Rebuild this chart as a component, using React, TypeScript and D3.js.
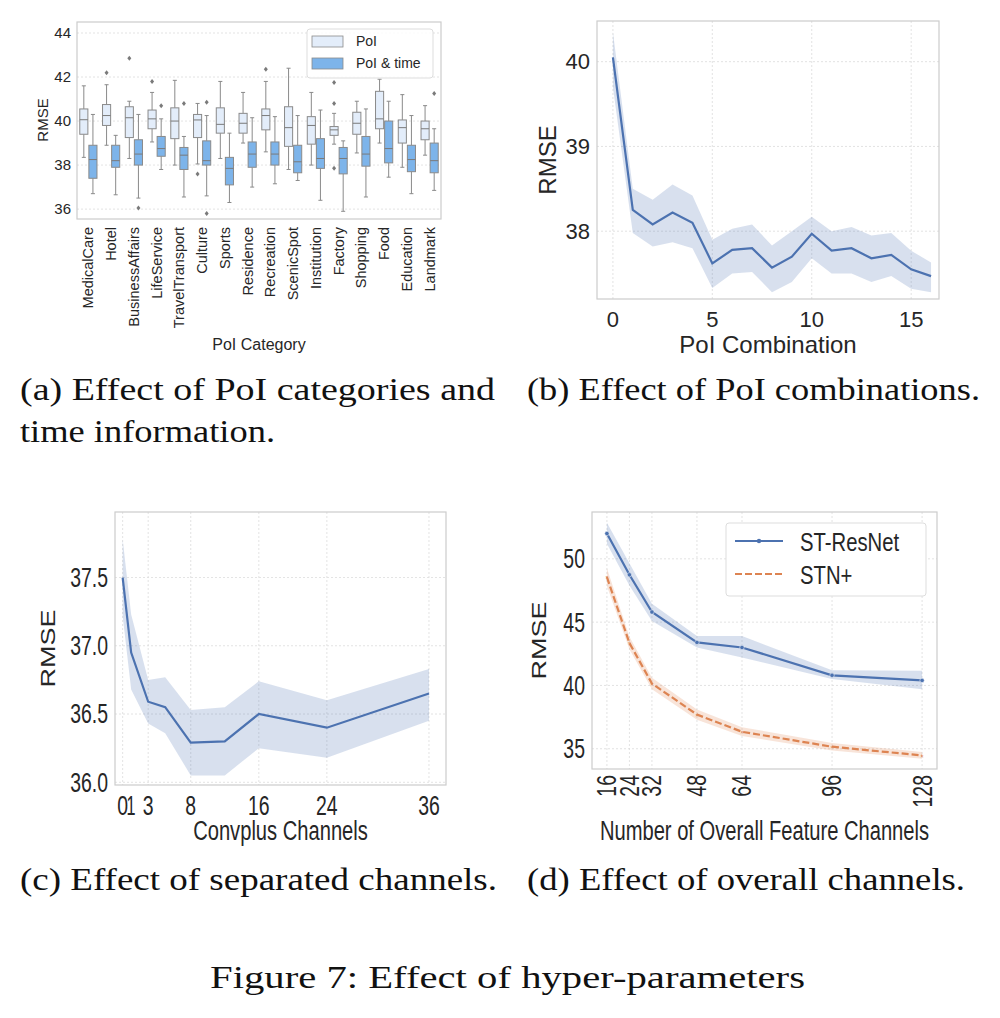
import React from "react";
import { scaleLinear, scaleBand, line, area } from "d3";

// (a) box stats: [whiskLo, q1, median, q3, whiskHi, outliers]
const categories = ["MedicalCare", "Hotel", "BusinessAffairs", "LifeService", "TravelTransport", "Culture", "Sports", "Residence", "Recreation", "ScenicSpot", "Institution", "Factory", "Shopping", "Food", "Education", "Landmark"];
const poiBoxes: [number, number, number, number, number, number[]][] = [
  [38.35, 39.4, 40.06, 40.55, 41.6, []],
  [38.9, 39.8, 40.25, 40.75, 41.65, [42.2]],
  [38.3, 39.25, 40.15, 40.65, 40.9, [42.85]],
  [39.05, 39.65, 40.1, 40.5, 41.3, [41.8]],
  [38.0, 39.2, 40.0, 40.6, 41.85, []],
  [38.05, 39.25, 40.05, 40.3, 40.8, [37.6]],
  [38.3, 39.45, 39.85, 40.6, 41.8, []],
  [39.0, 39.45, 39.9, 40.35, 41.3, []],
  [38.6, 39.6, 40.25, 40.55, 41.8, [42.35]],
  [37.8, 38.85, 39.7, 40.65, 42.4, []],
  [38.0, 38.95, 39.8, 40.2, 41.3, []],
  [38.95, 39.35, 39.6, 39.75, 40.35, [41.75, 40.8, 37.85]],
  [38.55, 39.4, 39.9, 40.4, 40.9, []],
  [39.0, 39.65, 40.1, 41.35, 41.9, []],
  [37.9, 39.0, 39.7, 40.05, 41.2, []],
  [38.45, 39.15, 39.65, 40.0, 40.7, []],
];
const timeBoxes: [number, number, number, number, number, number[]][] = [
  [36.7, 37.4, 38.25, 38.9, 40.3, []],
  [36.65, 37.9, 38.2, 38.9, 39.35, []],
  [36.5, 38.0, 38.5, 39.15, 40.3, [36.05]],
  [37.8, 38.4, 38.75, 39.3, 40.1, [40.7]],
  [36.55, 37.8, 38.45, 38.8, 39.3, [40.8]],
  [36.6, 38.0, 38.2, 39.1, 40.25, [40.85, 35.8]],
  [36.3, 37.1, 37.85, 38.35, 39.45, []],
  [37.0, 37.9, 38.5, 39.05, 40.15, []],
  [37.15, 38.0, 38.5, 39.05, 40.2, []],
  [37.3, 37.65, 38.15, 38.9, 40.25, []],
  [36.4, 37.85, 38.3, 39.2, 40.5, []],
  [35.9, 37.6, 38.3, 38.8, 39.1, []],
  [36.55, 37.95, 38.5, 39.3, 40.55, []],
  [37.45, 38.1, 38.75, 40.0, 40.9, []],
  [36.7, 37.7, 38.25, 38.9, 40.25, []],
  [36.85, 37.65, 38.2, 39.0, 39.65, [41.25]],
];
const aTicks = [36, 38, 40, 42, 44];

// (b)
const combX = [0, 1, 2, 3, 4, 5, 6, 7, 8, 9, 10, 11, 12, 13, 14, 15, 16];
const combMean = [40.05, 38.25, 38.08, 38.22, 38.1, 37.62, 37.78, 37.8, 37.57, 37.7, 37.97, 37.77, 37.8, 37.68, 37.72, 37.55, 37.47];
const combHi = [40.35, 38.5, 38.37, 38.55, 38.42, 37.9, 38.03, 38.08, 37.83, 38.0, 38.17, 38.0, 38.05, 37.95, 37.98, 37.77, 37.63];
const combLo = [39.7, 37.98, 37.82, 37.87, 37.8, 37.33, 37.5, 37.52, 37.28, 37.4, 37.68, 37.5, 37.5, 37.4, 37.47, 37.32, 37.28];
const bTicksX = [0, 5, 10, 15];
const bTicksY = [38, 39, 40];

// (c)
const chanX = [0, 1, 3, 5, 8, 12, 16, 24, 36];
const chanMean = [37.5, 36.95, 36.59, 36.55, 36.29, 36.3, 36.5, 36.4, 36.65];
const chanHi = [37.78, 37.23, 36.75, 36.77, 36.53, 36.55, 36.74, 36.6, 36.83];
const chanLo = [37.22, 36.68, 36.43, 36.36, 36.05, 36.05, 36.25, 36.18, 36.45];
const cTicksX = [0, 1, 3, 8, 16, 24, 36];
const cTicksY = [36.0, 36.5, 37.0, 37.5];

// (d)
const featX = [16, 24, 32, 48, 64, 96, 128];
const resMean = [52.0, 48.74, 45.8, 43.4, 43.0, 40.8, 40.4];
const resHi = [52.86, 49.66, 46.45, 43.9, 43.9, 41.2, 41.17];
const resLo = [51.2, 47.9, 45.1, 43.0, 42.2, 40.5, 39.7];
const stnMean = [48.55, 43.35, 40.15, 37.7, 36.34, 35.16, 34.47];
const stnHi = [49.25, 43.85, 40.6, 38.1, 36.7, 35.45, 34.75];
const stnLo = [47.85, 42.85, 39.7, 37.3, 36.0, 34.87, 34.2];
const dTicksY = [35, 40, 45, 50];

const SANS = "Liberation Sans, Arial, sans-serif";
const SERIF = "Liberation Serif, Times New Roman, serif";
const BLUE = "#4c72b0";
const ORANGE = "#dd8452";
const GRID = "#dcdcdc";
const FRAME = "#cccccc";
const TXT = "#262626";

const Frame = ({ x0, x1, y0, y1 }: any) => (
  <rect x={x0} y={y0} width={x1 - x0} height={y1 - y0} fill="none" stroke={FRAME} strokeWidth={1.2} />
);

function PanelA() {
  const x0 = 77, x1 = 441, y0 = 22, y1 = 219;
  const x = scaleBand<string>().domain(categories).range([x0, x1]);
  const y = scaleLinear().domain([35.55, 44.5]).range([y1, y0]);
  const bw = x.bandwidth();
  const half = bw * 0.4;
  const box = (s: any, cx: number, fill: string, key: string) => {
    const [lo, q1, med, q3, hi, outs] = s;
    const w = half - 1;
    return (
      <g key={key}>
        <line x1={cx} x2={cx} y1={y(hi)} y2={y(q3)} stroke="#8a8a8a" />
        <line x1={cx} x2={cx} y1={y(q1)} y2={y(lo)} stroke="#8a8a8a" />
        <line x1={cx - w / 4} x2={cx + w / 4} y1={y(hi)} y2={y(hi)} stroke="#8a8a8a" />
        <line x1={cx - w / 4} x2={cx + w / 4} y1={y(lo)} y2={y(lo)} stroke="#8a8a8a" />
        <rect x={cx - w / 2} y={y(q3)} width={w} height={y(q1) - y(q3)} fill={fill} stroke="#8a8a8a" />
        <line x1={cx - w / 2} x2={cx + w / 2} y1={y(med)} y2={y(med)} stroke="#7a7a7a" />
        {outs.map((o: number, i: number) => (
          <path key={i} d={`M${cx},${y(o) - 2.5}L${cx + 2},${y(o)}L${cx},${y(o) + 2.5}L${cx - 2},${y(o)}Z`} fill="#7a7a7a" />
        ))}
      </g>
    );
  };
  return (
    <g fontFamily={SANS}>
      {aTicks.map((t) => (
        <g key={t}>
          <line x1={x0} x2={x1} y1={y(t)} y2={y(t)} stroke={GRID} strokeDasharray="2,2" strokeWidth={0.8} />
          <text x={x0 - 6} y={y(t)} dy="0.35em" textAnchor="end" fontSize={15} fill={TXT}>{t}</text>
        </g>
      ))}
      <Frame x0={x0} x1={x1} y0={y0} y1={y1} />
      {categories.map((c, i) => {
        const cx = x(c)! + bw / 2;
        return (
          <g key={c}>
            {box(poiBoxes[i], cx - half / 2, "#e3edfa", "p")}
            {box(timeBoxes[i], cx + half / 2, "#7db4ea", "t")}
            <text transform={`translate(${cx + 5},${y1 + 8}) rotate(-90)`} textAnchor="end" fontSize={14.5} fill={TXT}>{c}</text>
          </g>
        );
      })}
      <g>
        <rect x={307} y={29} width={126} height={49} fill="#fff" fillOpacity={0.85} stroke="#dddddd" rx={3} />
        <rect x={312} y={36} width={31} height={11} fill="#e3edfa" stroke="#8a8a8a" strokeWidth={0.8} />
        <rect x={312} y={58} width={31} height={11} fill="#7db4ea" stroke="#8a8a8a" strokeWidth={0.8} />
        <text x={356} y={46} fontSize={14} fill={TXT}>PoI</text>
        <text x={356} y={68} fontSize={14} fill={TXT}>PoI &amp; time</text>
      </g>
      <text transform="translate(48,120) rotate(-90)" textAnchor="middle" fontSize={15} fill={TXT}>RMSE</text>
      <text x={259} y={350} textAnchor="middle" fontSize={16} fill={TXT}>PoI Category</text>
    </g>
  );
}

function LinePanel({ x0, x1, y0, y1, xs, ys, series, xTicks, yTicks, fmtY, xLabel, yLabelX, xLabelY, squish, rotX }: any) {
  const x = scaleLinear().domain(xs).range([x0, x1]);
  const y = scaleLinear().domain(ys).range([y1, y0]);
  const sx = squish ? 0.72 : 1;
  const fs = squish ? 27 : 22;
  return (
    <g fontFamily={SANS}>
      {xTicks.map((t: number) => (
        <line key={"gx" + t} x1={x(t)} x2={x(t)} y1={y0} y2={y1} stroke={GRID} strokeDasharray="2,2" strokeWidth={0.8} />
      ))}
      {yTicks.map((t: number) => (
        <g key={"gy" + t}>
          <line x1={x0} x2={x1} y1={y(t)} y2={y(t)} stroke={GRID} strokeDasharray="2,2" strokeWidth={0.8} />
          <text transform={`translate(${x0 - 7},${y(t)}) scale(${sx},1)`} dy="0.35em" textAnchor="end" fontSize={fs} fill={TXT}>{fmtY(t)}</text>
        </g>
      ))}
      <Frame x0={x0} x1={x1} y0={y0} y1={y1} />
      {series.map((s: any, i: number) => {
        const pts = s.x.map((v: number, k: number) => [v, s.m[k], s.lo[k], s.hi[k]]);
        const ar = area<any>().x((d) => x(d[0])).y0((d) => y(d[2])).y1((d) => y(d[3]));
        const ln = line<any>().x((d) => x(d[0])).y((d) => y(d[1]));
        return (
          <g key={i}>
            <path d={ar(pts)!} fill={s.color} fillOpacity={0.22} />
            <path d={ln(pts)!} fill="none" stroke={s.color} strokeWidth={2.2} strokeDasharray={s.dash || null} />
            {s.marker && pts.map((p: any, k: number) => (
              s.marker === "o"
                ? <circle key={k} cx={x(p[0])} cy={y(p[1])} r={2.2} fill={s.color} stroke="#fff" strokeWidth={0.5} />
                : <text key={k} x={x(p[0])} y={y(p[1])} dy="0.35em" textAnchor="middle" fontSize={6} fill={s.color}>×</text>
            ))}
          </g>
        );
      })}
      {xTicks.map((t: number) => rotX ? (
        <text key={"tx" + t} transform={`translate(${x(t)},${y1 + 6}) rotate(-90) scale(${sx},1)`} dy="0.35em" textAnchor="end" fontSize={fs} fill={TXT}>{t}</text>
      ) : (
        <text key={"tx" + t} transform={`translate(${x(t)},${y1 + (squish ? 30 : 28)}) scale(${sx},1)`} textAnchor="middle" fontSize={fs} fill={TXT}>{t}</text>
      ))}
      <text transform={`translate(${yLabelX},${(y0 + y1) / 2}) rotate(-90) scale(1,${sx})`} textAnchor="middle" fontSize={squish ? 27 : 24} fill={TXT}>RMSE</text>
      <text transform={`translate(${(x0 + x1) / 2},${xLabelY}) scale(${sx},1)`} textAnchor="middle" fontSize={squish ? 28 : 24} fill={TXT}>{xLabel}</text>
    </g>
  );
}

export default function App() {
  const W = 1000, H = 1018;
  return (
    <svg width={W} height={H} style={{ display: "block", position: "absolute", left: 0, top: 0, background: "#fff" }}>
      <PanelA />
      <LinePanel x0={597} x1={939} y0={21} y1={299} xs={[-0.8, 16.4]} ys={[37.2, 40.48]}
        series={[{ x: combX, m: combMean, lo: combLo, hi: combHi, color: BLUE }]}
        xTicks={bTicksX} yTicks={bTicksY} fmtY={(t: number) => t} xLabel="PoI Combination" yLabelX={556} xLabelY={353} />
      <LinePanel x0={115} x1={446} y0={512} y1={785} xs={[-0.9, 38]} ys={[35.98, 37.98]}
        series={[{ x: chanX, m: chanMean, lo: chanLo, hi: chanHi, color: BLUE }]}
        xTicks={cTicksX.filter((t) => t !== 1)} yTicks={cTicksY} fmtY={(t: number) => t.toFixed(1)} xLabel="Convplus Channels" yLabelX={55} xLabelY={840} squish />
      <text transform="translate(131,815) scale(0.6,1)" textAnchor="middle" fontSize={27} fill={TXT} fontFamily={SANS}>1</text>
      <LinePanel x0={592} x1={937} y0={512} y1={769} xs={[10.7, 133.3]} ys={[33.4, 53.7]}
        series={[
          { x: featX, m: resMean, lo: resLo, hi: resHi, color: BLUE, marker: "o" },
          { x: featX, m: stnMean, lo: stnLo, hi: stnHi, color: ORANGE, marker: "x", dash: "7,3" },
        ]}
        xTicks={featX} yTicks={dTicksY} fmtY={(t: number) => t} xLabel="Number of Overall Feature Channels" yLabelX={546} xLabelY={840} squish rotX />
      <g fontFamily={SANS}>
        <rect x={726} y={523} width={200} height={73} fill="#fff" stroke="#dddddd" rx={3} />
        <line x1={735} x2={783} y1={541} y2={541} stroke={BLUE} strokeWidth={2.2} />
        <circle cx={759} cy={541} r={2.2} fill={BLUE} />
        <line x1={735} x2={783} y1={574} y2={574} stroke={ORANGE} strokeWidth={2.2} strokeDasharray="7,3" />
        <text transform="translate(800,551) scale(0.78,1)" fontSize={26} fill={TXT}>ST-ResNet</text>
        <text transform="translate(800,584) scale(0.78,1)" fontSize={26} fill={TXT}>STN+</text>
      </g>
      <g fontFamily={SERIF} fontSize={32} fill="#111">
        <text x={20} y={400} textLength={475} lengthAdjust="spacingAndGlyphs">(a) Effect of PoI categories and</text>
        <text x={20} y={442} textLength={255} lengthAdjust="spacingAndGlyphs">time information.</text>
        <text x={527} y={400} textLength={453} lengthAdjust="spacingAndGlyphs">(b) Effect of PoI combinations.</text>
        <text x={20} y={890} textLength={477} lengthAdjust="spacingAndGlyphs">(c) Effect of separated channels.</text>
        <text x={527} y={890} textLength={438} lengthAdjust="spacingAndGlyphs">(d) Effect of overall channels.</text>
        <text x={210} y={988} textLength={595} lengthAdjust="spacingAndGlyphs">Figure 7: Effect of hyper-parameters</text>
      </g>
    </svg>
  );
}
